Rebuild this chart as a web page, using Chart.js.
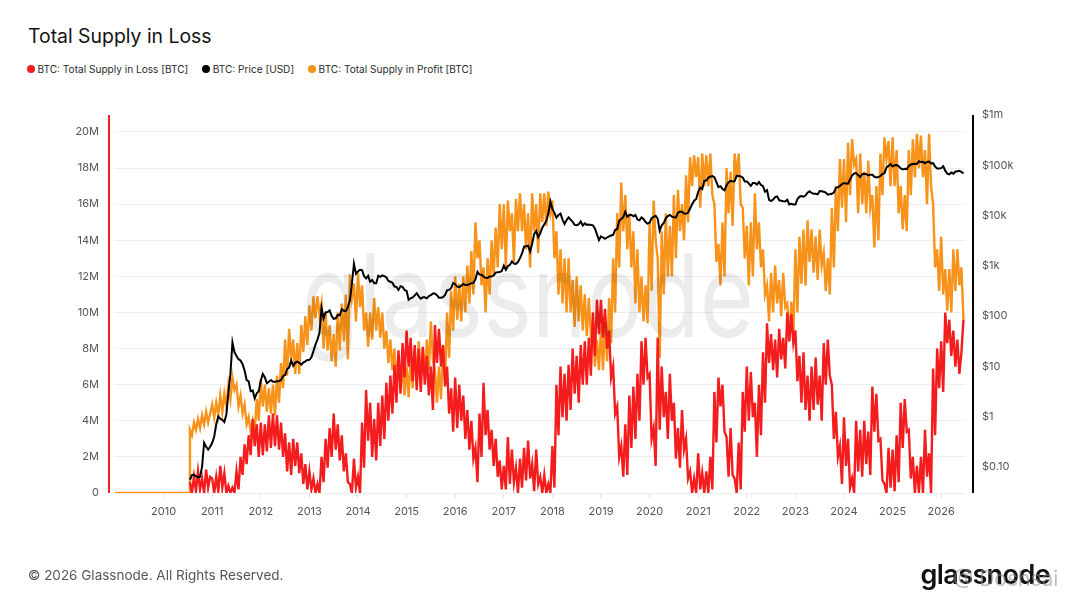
<!DOCTYPE html>
<html>
<head>
<meta charset="utf-8">
<script src="https://cdn.jsdelivr.net/npm/chart.js@4.4.1/dist/chart.umd.min.js"></script>
<style>
  body { margin: 0; background: #fff; font-family: Inter, "Noto Sans", sans-serif; }
  #wrap { position: relative; width: 1080px; height: 608px; overflow: hidden; }
  #chart { position: absolute; left: 0; top: 0; }
  #title { position: absolute; left: 28px; top: 24px; font-size: 19.4px; color: #141414; }
  #legend { position: absolute; left: 26.5px; top: 63px; display: flex; font-size: 10.1px; color: #2a2a2a; }
  #legend .item { display: flex; align-items: center; margin-right: 13.5px; }
  #legend .dot { width: 8px; height: 8px; border-radius: 50%; margin-right: 3px; }
  #footer { position: absolute; left: 28px; top: 567px; font-size: 13.5px; color: #555; }
  #logo { position: absolute; right: 30px; top: 558px; font-size: 27px; font-weight: 600; color: #111; letter-spacing: -0.6px; }
  #mark { position: absolute; left: 953px; top: 566px; font-size: 21px; color: rgba(140,140,140,0.55); }
</style>
</head>
<body>
<div id="wrap">
  <div id="title">Total Supply in Loss</div>
  <div id="legend"></div>
  <canvas id="chart" width="1080" height="608"></canvas>
  <div id="footer">© 2026 Glassnode. All Rights Reserved.</div>
  <div id="logo">glassnode</div>
  <div id="mark">@ Doshsai</div>
</div>
<script>
// === DATA ===
// half-month samples, mid Jul 2010 .. mid Jun 2026
const firstHalfMonth = 2010 + 13 / 24;
const lastHalfMonth = 2026 + 11 / 24;

// profit is flat at zero before the price history starts
const flatDates = [2009.0, 2010.53];
const flatProfit = [0, 0];

// BTC: Total Supply in Loss, millions of BTC (one row per year)
const lossM = [
  0.6,0.0,0.9,0.1,1.2,0.2,0.8,0.0,1.3,0.3,0.9,
  0.8,0.0,0.9,0.1,1.5,0.3,1.1,0.0,0.4,0.0,0.3,0.0, 1.2,0.2,2.0,1.0,2.7,1.6,3.2,2.1,4.1,2.6,3.8,2.0,
  3.9,2.1,3.8,2.3,4.3,2.5,4.4,2.6,4.3,2.4,3.9,2.0, 3.3,1.2,2.8,1.0,3.0,1.5,2.8,1.1,2.2,0.5,1.6,0.2,
  1.2,0.2,0.8,0.0,0.5,0.0,2.0,0.6,3.0,1.4,3.6,2.0, 4.4,2.4,3.8,1.8,3.2,1.2,2.2,0.6,0.5,0.0,1.9,0.3,
  0.9,0.0,3.9,1.4,5.7,2.9,5.0,2.0,4.1,1.8,5.0,2.6, 5.4,3.0,6.1,4.0,6.5,4.4,7.1,5.0,7.9,5.5,8.3,6.4,
  9.0,7.0,8.6,6.2,8.2,5.7,8.0,5.6,8.1,6.0,7.6,5.4, 7.0,4.6,9.3,7.2,9.1,7.0,8.2,5.9,7.0,4.4,5.8,3.4,
  6.4,3.6,6.0,4.0,5.4,3.0,4.6,2.4,4.0,1.9,2.5,0.6, 4.4,2.0,6.1,3.2,4.6,2.4,3.5,1.5,3.0,0.9,1.8,0.2,
  1.5,0.2,3.1,0.5,2.4,0.6,1.4,0.0,1.9,0.3,2.5,0.7, 2.9,0.8,1.6,0.1,2.4,0.5,0.9,0.0,1.0,0.0,0.5,0.0,
  2.6,0.3,6.0,3.2,7.0,4.2,6.6,4.0,7.1,4.6,8.0,5.5, 7.6,5.0,8.2,6.0,8.4,6.0,8.6,6.5,10.0,7.6,10.7,8.8,
  10.7,8.6,10.2,8.0,9.0,6.4,7.0,4.4,4.8,2.0,2.6,0.9, 3.8,1.0,5.4,2.5,5.9,3.0,6.6,4.0,8.4,6.0,8.6,6.4,
  6.6,3.0,3.6,1.5,8.6,3.5,7.0,4.2,5.6,3.0,6.6,4.0, 5.0,1.9,3.6,1.4,4.6,2.4,3.0,0.8,1.2,0.0,0.8,0.0,
  2.2,0.2,1.1,0.0,1.2,0.0,2.0,0.2,5.6,2.8,6.4,4.8, 6.0,3.4,3.1,0.9,3.6,1.0,0.8,0.0,2.8,0.2,5.6,3.4,
  7.0,4.0,6.7,4.2,5.0,2.0,6.0,3.2,7.8,5.0,9.4,7.2, 8.8,6.8,8.5,6.4,9.1,7.4,8.6,6.9,10.0,8.4,9.9,8.3,
  9.0,6.2,7.6,5.0,7.8,4.6,6.5,4.0,7.0,4.6,7.5,4.9, 6.5,4.0,8.3,6.0,8.5,6.5,6.0,3.0,4.5,2.0,2.6,0.5,
  4.2,1.5,3.0,0.3,0.8,0.0,4.0,1.2,3.5,0.9,4.0,1.6, 3.4,1.0,5.9,3.4,5.5,2.9,3.0,0.7,0.5,0.0,2.5,0.3,
  2.4,0.1,3.2,0.6,5.0,2.5,5.2,3.4,3.5,0.8,2.0,0.0, 1.5,0.0,2.0,0.0,3.5,0.9,2.2,0.0,6.9,3.2,8.0,5.8,
  8.4,5.6,10.0,8.3,9.6,7.6,9.0,7.0,8.5,6.6,7.8,9.6
];

// BTC: Total Supply in Profit, millions of BTC (one row per year)
const profitM = [
  3.5,3.2,3.9,3.5,4.1,3.6,4.3,3.8,4.5,3.9,4.4,
  4.9,4.2,5.0,4.3,5.4,4.5,5.5,4.8,6.0,5.2,6.4,5.7, 6.0,4.8,5.4,4.4,4.9,3.8,4.2,3.4,4.0,3.4,5.2,4.0,
  6.3,4.8,6.0,4.5,5.8,4.4,6.0,4.3,6.5,5.0,7.2,5.8, 8.5,6.5,9.1,7.4,8.5,6.6,8.3,6.6,9.3,7.8,9.8,8.2,
  10.4,9.0,10.9,9.7,10.9,9.8,10.5,8.0,10.0,7.9,9.3,7.3, 8.8,7.0,10.0,7.9,10.5,8.4,11.0,7.4,12.1,10.8,11.6,9.5,
  12.2,10.3,11.5,9.0,10.0,8.1,10.0,8.5,10.8,9.0,10.3,8.6, 10.0,8.0,9.0,7.2,8.5,6.8,8.0,6.3,7.5,5.8,7.0,5.4,
  7.0,5.3,7.5,5.8,8.0,6.2,8.4,6.5,8.0,6.5,8.5,6.8, 9.5,7.4,6.8,5.0,7.0,5.2,8.2,6.2,10.0,7.5,11.2,9.0,
  12.0,9.6,11.6,9.5,12.0,10.0,12.6,10.5,13.4,11.0,15.0,13.0, 14.0,11.5,12.5,10.0,13.0,11.0,14.0,12.0,14.7,12.5,16.0,13.5,
  16.0,12.5,16.2,14.5,15.5,12.8,16.3,14.5,16.6,14.5,16.0,13.5, 15.5,12.5,16.6,14.5,16.0,13.3,16.6,15.0,16.6,14.8,16.7,15.5,
  16.2,13.0,14.5,11.0,13.5,10.5,13.0,10.0,13.0,10.0,11.8,9.2, 12.0,9.5,11.5,9.0,11.0,8.7,10.8,8.8,9.5,7.0,8.5,6.8,
  9.2,6.8,9.6,7.3,10.8,8.3,13.0,10.0,15.5,12.5,17.2,14.5, 16.5,13.5,15.5,12.5,14.5,10.5,13.5,10.0,12.0,9.5,11.5,9.4,
  15.0,11.2,16.2,14.0,13.0,7.5,14.5,11.0,15.5,12.0,14.8,12.0, 16.5,13.0,16.8,14.5,16.0,14.0,17.6,15.0,18.6,17.0,18.7,17.5,
  18.6,15.8,18.8,17.0,18.7,17.0,18.8,16.5,16.0,12.8,13.8,11.5, 15.0,12.0,18.0,15.5,17.8,14.8,18.8,17.5,18.8,16.0,15.8,13.0,
  14.8,11.5,15.0,12.0,16.6,13.5,15.0,12.5,13.5,11.0,11.5,9.5, 12.2,10.0,12.6,10.5,11.8,9.8,12.2,10.3,10.5,8.5,10.6,8.7,
  13.5,10.0,14.2,11.6,14.6,11.5,15.1,12.8,14.6,12.2,14.2,11.8, 14.6,12.6,13.3,11.2,13.0,11.0,15.8,12.5,17.0,14.5,18.5,15.8,
  18.5,15.0,19.4,16.5,19.6,18.2,18.5,15.5,18.8,16.0,17.8,15.5, 18.4,15.8,16.5,13.6,17.0,14.0,18.8,16.5,19.7,18.5,19.5,17.0,
  19.7,17.0,19.0,15.5,17.0,14.6,16.5,14.5,19.0,16.5,19.6,17.5, 19.9,18.0,19.8,17.5,19.0,16.0,19.9,17.0,16.0,12.5,13.5,11.2,
  14.2,11.0,12.4,10.1,12.4,10.0,13.5,11.2,13.5,11.5,12.5,9.6
];

// BTC: Price, USD (one row per year)
const priceUsd = [
  0.055,0.068,0.07,0.064,0.062,0.063,0.1,0.3,0.25,0.22,0.25,
  0.3,0.4,0.7,1.0,0.9,0.86,0.78,1.1,3.0,7.0,30,19,16,13.8,13,11,8.2,5.3,5.0,3.2,3.3,2.3,2.9,3.2,
  5.2,7.0,6.0,4.6,4.9,5.3,4.9,4.9,5.0,5.1,5.3,6.4,6.7,8.8,9.4,13,10.2,11.8,12.4,11.7,10.8,11.8,12.5,13.3,
  13.4,15,20,27,34,47,145,90,118,120,129,100,88,90,105,103,137,127,125,150,205,440,1100,690,
  770,830,820,620,560,630,480,520,450,450,630,600,640,620,590,500,480,460,385,380,330,390,380,330,
  315,210,225,235,255,285,245,220,235,235,225,250,260,280,280,260,230,230,237,263,325,330,360,455,
  430,385,375,400,435,415,415,430,450,455,535,760,670,665,610,575,570,610,610,640,730,745,750,785,
  1000,830,980,1040,1220,1100,1090,1180,1420,1750,2400,2450,2500,1920,2750,4300,4900,3700,4400,5700,6700,7800,10900,19100,
  13500,11300,9100,10200,10900,8300,6800,8100,9200,8300,7500,6500,6400,6700,7600,6300,7000,6500,6600,6500,6350,5500,4200,3250,
  3850,3650,3450,3650,3850,4000,4100,5200,5350,7900,8550,9300,11900,9400,10100,10300,9600,10200,8300,8000,9150,8500,7400,6900,
  7200,8800,9400,9900,8600,5000,6400,7100,8800,9700,10200,9500,9200,9150,11300,11900,11900,11000,10800,11400,13800,16700,19700,21300,
  29400,36000,33500,49200,49600,56800,59000,61000,57800,46000,36700,38300,33500,31800,39800,45900,48800,47700,48200,61500,61300,60000,57000,47600,
  47700,43100,38700,44500,44400,41100,46300,40500,38500,29800,31800,20400,19300,20800,23300,23900,20100,19700,19300,19100,20500,16600,17100,16600,
  16600,21100,23700,24300,23600,24900,28500,30300,28100,27000,27000,26300,30600,30300,29700,28700,25900,26600,27000,28500,35400,36500,38700,42200,
  44200,43100,43000,52100,62400,68400,69700,63400,58300,66300,67500,66600,62700,65000,64600,58900,57300,58200,61000,67400,69500,90500,97100,106000,
  94400,100500,100600,96000,86000,82600,85100,84000,96500,103500,105700,106800,105700,119800,115700,117500,109200,116800,118600,108200,110000,94300,86300,86400,
  87500,95500,78000,68000,66000,71500,68000,74500,76000,77500,74000,68500
];

const yearTicks = [2010,2011,2012,2013,2014,2015,2016,2017,2018,2019,2020,2021,2022,2023,2024,2025,2026];
const priceTickValues = [0.1, 1, 10, 100, 1e3, 1e4, 1e5, 1e6];
const priceTickLabels = ["$0.10", "$1", "$10", "$100", "$1k", "$10k", "$100k", "$1m"];

const seriesNames = ["BTC: Total Supply in Loss [BTC]", "BTC: Price [USD]", "BTC: Total Supply in Profit [BTC]"];
const seriesColors = ["#f41c1c", "#000000", "#f7931a"];

// === BUILD ===
const dates = [];
for (let y = 2010; y <= 2026; y++) {
  for (let h = 0; h < 24; h++) {
    const t = y + h / 24;
    if (t >= firstHalfMonth - 1e-6 && t <= lastHalfMonth + 1e-6) dates.push(t);
  }
}
if (dates.length !== lossM.length || dates.length !== profitM.length || dates.length !== priceUsd.length) {
  console.warn("length mismatch", dates.length, lossM.length, profitM.length, priceUsd.length);
}

const lossPts = dates.map((d, i) => ({ x: d, y: lossM[i] }));
const profitPts = flatDates.map((d, i) => ({ x: d, y: flatProfit[i] }))
  .concat(dates.map((d, i) => ({ x: d, y: profitM[i] })));
const pricePts = dates.map((d, i) => ({ x: d, y: priceUsd[i] }));

// legend
const legendEl = document.getElementById("legend");
seriesNames.forEach((name, i) => {
  const item = document.createElement("div");
  item.className = "item";
  item.innerHTML = `<span class="dot" style="background:${seriesColors[i]}"></span><span>${name}</span>`;
  legendEl.appendChild(item);
});

// === PLUGINS ===
const axisLines = {
  id: "axisLines",
  afterDraw(chart) {
    const { ctx, chartArea: a } = chart;
    ctx.save();
    ctx.lineWidth = 2;
    ctx.strokeStyle = seriesColors[0];
    ctx.beginPath();
    ctx.moveTo(a.left - 6, a.top);
    ctx.lineTo(a.left - 6, a.bottom);
    ctx.stroke();
    ctx.strokeStyle = "#000";
    ctx.beginPath();
    ctx.moveTo(a.right + 8, a.top);
    ctx.lineTo(a.right + 8, a.bottom);
    ctx.stroke();
    ctx.restore();
  }
};

const watermark = {
  id: "watermark",
  afterDatasetsDraw(chart) {
    const { ctx } = chart;
    ctx.save();
    ctx.font = "400 116px Inter, 'Noto Sans', sans-serif";
    ctx.fillStyle = "rgba(0,0,0,0.075)";
    ctx.textBaseline = "alphabetic";
    const w = ctx.measureText("glassnode").width;
    ctx.translate(302, 337);
    ctx.scale(452 / w, 1);
    ctx.fillText("glassnode", 0, 0);
    ctx.restore();
  }
};

// === CHART ===
const tickFont = { family: "Inter, 'Noto Sans', sans-serif", size: 11 };

new Chart(document.getElementById("chart"), {
  type: "line",
  data: {
    datasets: [
      { label: seriesNames[0], data: lossPts, borderColor: seriesColors[0], borderWidth: 2.4, pointRadius: 0, yAxisID: "y", order: 1 },
      { label: seriesNames[1], data: pricePts, borderColor: seriesColors[1], borderWidth: 2, pointRadius: 0, yAxisID: "y1", order: 0 },
      { label: seriesNames[2], data: profitPts, borderColor: seriesColors[2], borderWidth: 2.4, pointRadius: 0, yAxisID: "y", order: 2 }
    ]
  },
  options: {
    responsive: false,
    animation: false,
    events: [],
    layout: { padding: { top: 115, left: 0, right: 0, bottom: 0 } },
    plugins: { legend: { display: false }, title: { display: false }, tooltip: { enabled: false } },
    scales: {
      x: {
        type: "linear",
        min: 2009.0,
        max: 2026.49,
        afterBuildTicks: s => { s.ticks = yearTicks.map(v => ({ value: v })); },
        afterFit: s => { s.height = 115; },
        ticks: { callback: v => String(v), color: "#555", font: tickFont, padding: 7, maxRotation: 0, autoSkip: false },
        grid: { drawOnChartArea: false, drawTicks: true, tickLength: 5, color: "#e2e2e2" },
        border: { display: false }
      },
      y: {
        position: "left",
        min: 0,
        max: 20.94,
        afterBuildTicks: s => { s.ticks = s.ticks.filter(t => Math.abs(t.value / 2 - Math.round(t.value / 2)) < 1e-6); },
        afterFit: s => { s.width = 115; },
        ticks: { stepSize: 2, callback: v => (v === 0 ? "0" : v + "M"), color: "#555", font: tickFont, padding: 16 },
        grid: { color: "#ededed", drawTicks: false },
        border: { display: false }
      },
      y1: {
        type: "logarithmic",
        position: "right",
        min: 0.03,
        max: 1e6,
        afterBuildTicks: s => { s.ticks = priceTickValues.map(v => ({ value: v })); },
        afterFit: s => { s.width = 115; },
        ticks: { callback: (v, i) => priceTickLabels[i], color: "#555", font: tickFont, padding: 17 },
        grid: { display: false, drawTicks: false },
        border: { display: false }
      }
    }
  },
  plugins: [axisLines, watermark]
});
</script>
</body>
</html>
